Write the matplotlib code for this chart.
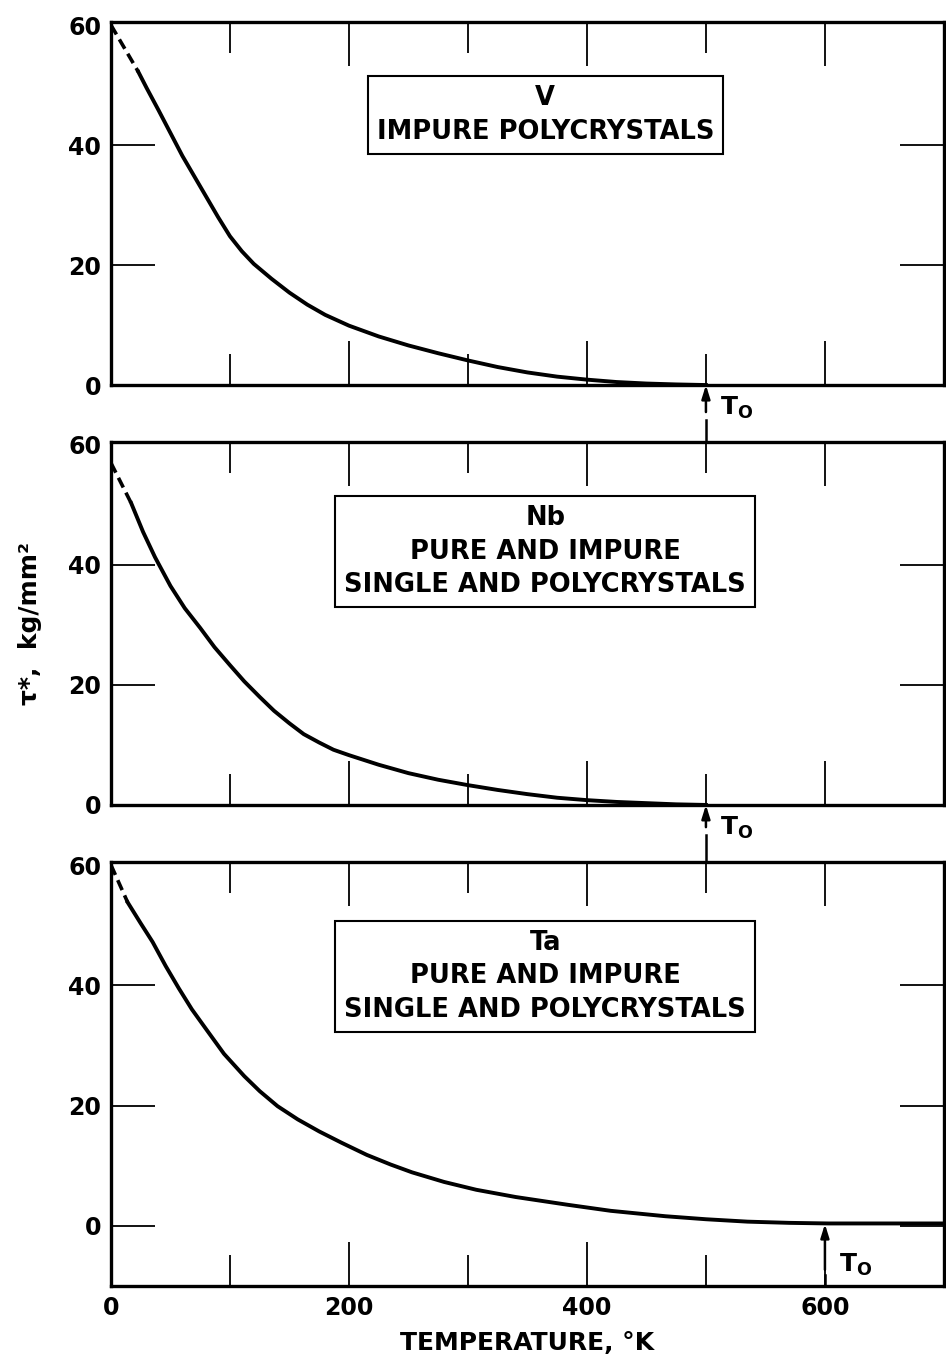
import numpy as np
import matplotlib
matplotlib.use('Agg')
import matplotlib.pyplot as plt
from matplotlib.ticker import MultipleLocator

plt.rcParams['font.family'] = 'DejaVu Sans'
plt.rcParams['font.weight'] = 'bold'
plt.rcParams['mathtext.fontset'] = 'dejavusans'

# tau* vs temperature; the first two points of each curve are the extrapolated (dashed) part
t_v = [0, 23, 30, 40, 50, 60, 70, 80, 90, 100, 110, 120, 135, 150, 165, 180, 200,
       225, 250, 275, 300, 325, 350, 375, 400, 425, 450, 475, 500]
tau_v = [60, 52.2, 49.5, 45.8, 42.0, 38.2, 34.8, 31.4, 28.0, 24.8, 22.3, 20.2, 17.7,
         15.4, 13.4, 11.7, 9.9, 8.1, 6.6, 5.3, 4.1, 3.0, 2.1, 1.4, 0.9, 0.5, 0.25, 0.1, 0]

t_nb = [0, 17, 27, 37, 50, 62, 75, 87, 100, 112, 125, 137, 150, 162, 175, 187, 200,
        225, 250, 275, 300, 325, 350, 375, 400, 425, 450, 475, 500]
tau_nb = [57, 50.3, 45.5, 41.3, 36.5, 32.8, 29.5, 26.3, 23.3, 20.6, 18.0, 15.7, 13.6,
          11.8, 10.4, 9.2, 8.3, 6.7, 5.3, 4.2, 3.3, 2.5, 1.8, 1.2, 0.8, 0.5, 0.3, 0.1, 0]

t_ta = [0, 14, 25, 35, 46, 57, 68, 80, 95, 112, 125, 140, 157, 175, 194, 215, 235,
        253, 280, 307, 340, 384, 420, 466, 500, 535, 570, 603, 650, 700]
tau_ta = [60, 53.8, 50.3, 47.2, 43.2, 39.5, 36.0, 32.7, 28.6, 24.9, 22.4, 19.9, 17.7,
          15.7, 13.8, 11.8, 10.2, 8.9, 7.3, 6.0, 4.8, 3.5, 2.5, 1.6, 1.1, 0.7, 0.5,
          0.4, 0.4, 0.4]

labels = ['V\nIMPURE POLYCRYSTALS',
          'Nb\nPURE AND IMPURE\nSINGLE AND POLYCRYSTALS',
          'Ta\nPURE AND IMPURE\nSINGLE AND POLYCRYSTALS']
t0 = [500, 500, 600]

fig = plt.figure(figsize=(9.46, 13.62), dpi=100)
left, width = 0.1173, 0.8805
ax1 = fig.add_axes([left, 0.7173, width, 0.2665])
ax2 = fig.add_axes([left, 0.4090, width, 0.2665])
ax3 = fig.add_axes([left, 0.0558, width, 0.3113])
axes = [ax1, ax2, ax3]

curves = [(t_v, tau_v), (t_nb, tau_nb), (t_ta, tau_ta)]
box_y = [45, 42.2, 41.5]
t0_tail = [(-4.5, -5.8, -9.2), (-3.7, -5.0, -9.2), (-7.3, -8.2, -10)]

for i, ax in enumerate(axes):
    t, tau = curves[i]
    ax.plot(t[:2], tau[:2], color='k', lw=2.6, ls=(0, (3, 1.6)), solid_capstyle='butt')
    ax.plot(t[1:], tau[1:], color='k', lw=2.8, solid_joinstyle='round')

    ax.set_xlim(0, 700)
    if i < 2:
        ax.set_ylim(0, 60.5)
    else:
        ax.set_ylim(-10, 60.5)
    ax.set_yticks([0, 20, 40, 60])
    ax.xaxis.set_major_locator(MultipleLocator(200))
    ax.xaxis.set_minor_locator(MultipleLocator(100))

    for s in ax.spines.values():
        s.set_linewidth(2.4)
    ax.tick_params(which='major', direction='in', length=32, width=1.3,
                   top=True, right=True, labelsize=17, pad=7)
    ax.tick_params(which='minor', direction='in', length=22, width=1.3,
                   top=True, bottom=True)
    if i < 2:
        ax.tick_params(labelbottom=False)
    for lab in ax.get_xticklabels() + ax.get_yticklabels():
        lab.set_fontweight('bold')

    # tick marks that would sit on the frame itself
    for tk in ax.yaxis.get_major_ticks():
        v = tk.get_loc()
        if v == 60 or (v == 0 and i < 2):
            tk.tick1line.set_visible(False)
            tk.tick2line.set_visible(False)

    ax.text(365, box_y[i], labels[i], ha='center', va='center', fontsize=18.5,
            fontweight='bold', linespacing=1.38,
            bbox=dict(boxstyle='square,pad=0.35', fc='white', ec='k', lw=1.5))

    # T0 marker below the curve end
    y_head = 0.3 if i == 2 else 0
    solid_end, dash_start, dash_end = t0_tail[i]
    ax.annotate('', xy=(t0[i], y_head), xytext=(t0[i], solid_end),
                arrowprops=dict(arrowstyle='-|>,head_length=0.8,head_width=0.25',
                                lw=1.8, color='k', shrinkA=0, shrinkB=0),
                annotation_clip=False)
    ax.plot([t0[i], t0[i]], [dash_start, dash_end], color='k', lw=1.8, clip_on=False)
    ax.text(t0[i] + 12, -3.8 if i < 2 else -6.5, r'T$_\mathbf{O}$', fontsize=18,
            fontweight='bold', ha='left', va='center')

ax2.set_ylabel('τ*,  kg/mm²', fontsize=18, fontweight='bold')
ax2.yaxis.set_label_coords(-0.083, 0.5)
ax3.set_xlabel('TEMPERATURE, °K', fontsize=18, fontweight='bold', labelpad=8)

fig.savefig('out.png', dpi=100)
